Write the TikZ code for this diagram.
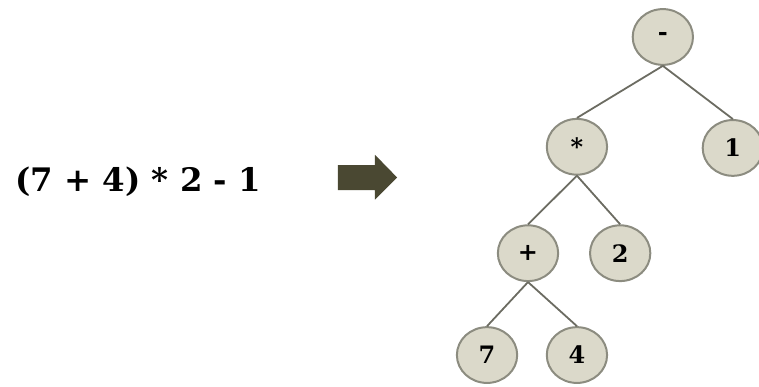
\documentclass[tikz,border=0pt]{standalone}
\usepackage{fontspec}
\setmainfont{DejaVu Serif}
\usepackage{tikz}
\usetikzlibrary{shapes.geometric}
\definecolor{nodefill}{RGB}{219,217,202}
\definecolor{nodeline}{RGB}{140,140,128}
\definecolor{edgeline}{RGB}{108,108,98}
\definecolor{arrowfill}{RGB}{74,72,50}

\begin{document}
\begin{tikzpicture}[
  op/.style={ellipse,draw=nodeline,line width=1pt,fill=nodefill,
    minimum width=1.06cm,minimum height=0.98cm,inner sep=0pt,
    font=\fontsize{12}{14}\selectfont\bfseries},
  edge/.style={draw=edgeline,line width=0.9pt}]
\useasboundingbox (0,0) rectangle (13.34,6.80);
\node[anchor=base west,inner sep=0pt,font=\fontsize{16.2}{19}\selectfont\bfseries]
  (expr) at (0.26,3.43) {(7 + 4) * 2 - 1};
\fill[arrowfill] (5.94,3.90) -- (6.59,3.90) -- (6.59,4.08) -- (6.98,3.68)
  -- (6.59,3.29) -- (6.59,3.46) -- (5.94,3.46) -- cycle;
\node[op] (minus) at (11.65,6.15) {-};
\node[op] (times) at (10.14,4.22) {*};
\node[op] (one)   at (12.88,4.20) {1};
\node[op] (plus)  at (9.28,2.35)  {+};
\node[op] (two)   at (10.90,2.35) {2};
\node[op] (seven) at (8.56,0.56)  {7};
\node[op] (four)  at (10.14,0.56) {4};
\draw[edge] (minus.south) -- (times.north);
\draw[edge] (minus.south) -- (one.north);
\draw[edge] (times.south) -- (plus.north);
\draw[edge] (times.south) -- (two.north);
\draw[edge] (plus.south) -- (seven.north);
\draw[edge] (plus.south) -- (four.north);
\end{tikzpicture}
\end{document}
